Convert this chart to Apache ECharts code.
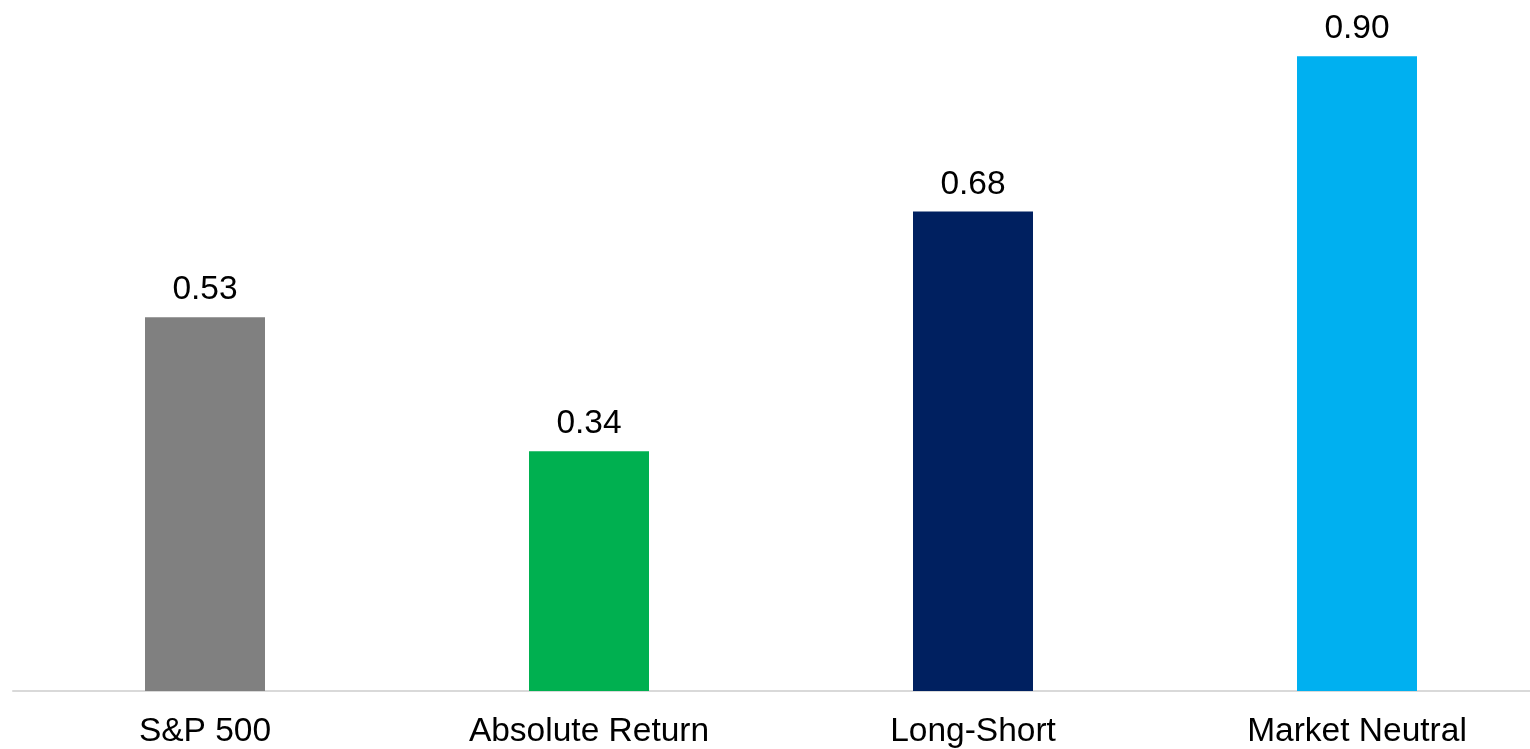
<!DOCTYPE html>
<html>
<head>
<meta charset="utf-8">
<style>
  html, body { margin: 0; padding: 0; background: #fff; }
  #main { width: 1530px; height: 749px; }
</style>
<script src="https://cdn.jsdelivr.net/npm/echarts@6/dist/echarts.min.js"></script>
</head>
<body>
<div id="main"></div>
<script>
var categories = ['S&P 500', 'Absolute Return', 'Long-Short', 'Market Neutral'];
var values = [0.53, 0.34, 0.68, 0.90];
var barColors = ['#808080', '#00b050', '#002060', '#00b0f0'];

var myChart = echarts.init(document.getElementById('main'));
myChart.setOption({
    animation: false,
    grid: {
        left: 13,
        width: 1536,
        top: 21,
        height: 670,
        outerBoundsMode: 'none'
    },
    xAxis: {
        type: 'category',
        data: categories,
        axisLine: {
            lineStyle: { color: '#d9d9d9', width: 2 }
        },
        axisTick: { show: false },
        axisLabel: {
            color: '#000',
            fontFamily: 'Liberation Sans',
            fontSize: 33.5,
            margin: 24
        }
    },
    yAxis: {
        type: 'value',
        min: 0,
        max: 0.95,
        show: false,
        splitLine: { show: false }
    },
    series: [{
        type: 'bar',
        barWidth: 120,
        data: values.map(function (v, i) {
            return { value: v, itemStyle: { color: barColors[i] } };
        }),
        label: {
            show: true,
            position: 'top',
            distance: 10,
            color: '#000',
            fontFamily: 'Liberation Sans',
            fontSize: 33.5,
            formatter: function (p) { return p.value.toFixed(2); }
        }
    }]
});
</script>
</body>
</html>
